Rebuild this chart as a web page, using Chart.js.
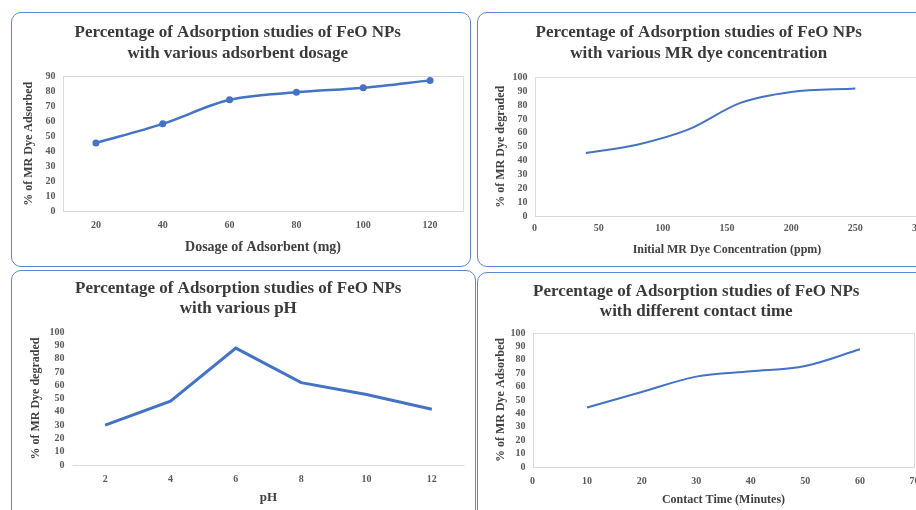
<!DOCTYPE html>
<html>
<head>
<meta charset="utf-8">
<script src="https://cdn.jsdelivr.net/npm/chart.js@4"></script>
<style>
    html, body { margin: 0; padding: 0; background: #fff; }
    body { width: 916px; height: 510px; overflow: hidden; position: relative; }
    .panel {
        position: absolute;
        border: 1.5px solid #5b87d3;
        border-radius: 10px;
        background: #fff;
        overflow: hidden;
    }
    .panel .inner { position: relative; width: 100%; height: 100%; }
</style>
</head>
<body>
<div class="panel" style="left:11px;top:12px;width:458px;height:253px"><div class="inner"><canvas id="dosageChart"></canvas></div></div>
<div class="panel" style="left:477px;top:12px;width:470px;height:253px"><div class="inner"><canvas id="concChart"></canvas></div></div>
<div class="panel" style="left:11px;top:270px;width:463px;height:250px"><div class="inner"><canvas id="phChart"></canvas></div></div>
<div class="panel" style="left:477px;top:272px;width:470px;height:250px"><div class="inner"><canvas id="timeChart"></canvas></div></div>
<script>
// values
const dosageLabels = ["20", "40", "60", "80", "100", "120"];
const dosageValues = [45.5, 58.3, 74.4, 79.4, 82.4, 87.4];

const concX = [40, 80, 120, 160, 200, 250];
const concValues = [45.5, 51.5, 62.5, 81.5, 89.5, 92];

const phLabels = ["2", "4", "6", "8", "10", "12"];
const phValues = [30, 48, 88, 62, 53, 42];

const timeX = [10, 20, 30, 40, 50, 60];
const timeValues = [44.5, 56, 67.5, 71.5, 75.5, 88];

const BLUE = "#4472c4";
const SERIF = "'Liberation Serif', 'Times New Roman', serif";

// light grey frame round the plot area (Excel style)
const plotBorder = {
    id: "plotBorder",
    beforeDatasetsDraw(chart, args, opts) {
        if (!opts.show) return;
        const a = chart.chartArea;
        const ctx = chart.ctx;
        ctx.save();
        ctx.strokeStyle = "#d9d9d9";
        ctx.lineWidth = 1;
        if (opts.bottomOnly) {
            ctx.beginPath();
            ctx.moveTo(a.left, Math.round(a.bottom) + 0.5);
            ctx.lineTo(a.right, Math.round(a.bottom) + 0.5);
            ctx.stroke();
        } else {
            ctx.strokeRect(Math.round(a.left) + 0.5, Math.round(a.top) + 0.5,
                Math.round(a.width) - 1, Math.round(a.height));
        }
        ctx.restore();
    },
};

function pairs(xs, ys) {
    return xs.map((x, i) => ({ x: x, y: ys[i] }));
}

function makeChart(id, s) {
    const xScale = {
        type: s.xType,
        offset: s.xType == "category",
        grid: { display: false, drawTicks: false },
        border: { display: false },
        ticks: {
            padding: s.xTickPad,
            color: "#595959",
            font: { family: SERIF, size: 10, weight: "bold" },
            maxRotation: 0,
            autoSkip: false,
        },
        title: {
            display: true,
            text: s.xTitle,
            color: "#404040",
            font: { family: SERIF, size: s.xTitleSize, weight: "bold" },
            padding: { top: 0, bottom: s.xTitlePad },
        },
        afterFit: (scale) => { scale.height = s.xHeight; },
    };
    if (s.xType == "linear") {
        xScale.min = 0;
        xScale.max = s.xMax;
        xScale.ticks.stepSize = s.xStep;
    }

    return new Chart(document.getElementById(id), {
        type: "line",
        data: {
            labels: s.labels,
            datasets: [
                {
                    data: s.data,
                    borderColor: BLUE,
                    backgroundColor: BLUE,
                    borderWidth: s.lineWidth,
                    pointRadius: s.pointRadius,
                    pointBorderWidth: 0,
                    cubicInterpolationMode: s.smooth ? "monotone" : "default",
                    tension: 0,
                },
            ],
        },
        plugins: [plotBorder],
        options: {
            responsive: true,
            maintainAspectRatio: false,
            animation: false,
            layout: { padding: { left: 0, top: 0, right: s.padRight, bottom: 0 } },
            plugins: {
                legend: { display: false },
                tooltip: { enabled: false },
                plotBorder: { show: true, bottomOnly: s.bottomOnly },
                title: {
                    display: true,
                    text: s.title,
                    color: "#3a3a3a",
                    font: { family: SERIF, size: 17, weight: "bold", lineHeight: s.titleLine },
                    padding: { top: s.titleTop, bottom: s.titleBottom },
                },
            },
            scales: {
                x: xScale,
                y: {
                    min: 0,
                    max: s.yMax,
                    grid: { display: false, drawTicks: false },
                    border: { display: false },
                    ticks: {
                        stepSize: 10,
                        autoSkip: false,
                        padding: s.yTickPad,
                        color: "#595959",
                        font: { family: SERIF, size: 10, weight: "bold" },
                    },
                    title: {
                        display: true,
                        text: s.yTitle,
                        color: "#404040",
                        font: { family: SERIF, size: 12, weight: "bold" },
                        padding: { top: s.yTitlePad, bottom: 0 },
                    },
                    afterFit: (scale) => { scale.width = s.yWidth; },
                },
            },
        },
    });
}

makeChart("dosageChart", {
    title: ["Percentage of Adsorption studies of FeO NPs", "with various adsorbent dosage"],
    labels: dosageLabels,
    data: dosageValues,
    xType: "category",
    xTitle: "Dosage of Adsorbent (mg)",
    xTitleSize: 14,
    yTitle: "% of MR Dye Adsorbed",
    yMax: 90,
    lineWidth: 2.5,
    pointRadius: 3.5,
    smooth: true,
    titleLine: 1.235, titleTop: 9, titleBottom: 12.5,
    padRight: 6.5, yWidth: 50.5, xHeight: 55,
    yTitlePad: 10, yTickPad: 7, xTickPad: 8, xTitlePad: 10,
});

makeChart("concChart", {
    title: ["Percentage of Adsorption studies of FeO NPs", "with various MR dye concentration"],
    data: pairs(concX, concValues),
    xType: "linear", xMax: 300, xStep: 50,
    xTitle: "Initial MR Dye Concentration (ppm)",
    xTitleSize: 12,
    yTitle: "% of MR Dye degraded",
    yMax: 100,
    lineWidth: 2,
    pointRadius: 0,
    smooth: true,
    titleLine: 1.235, titleTop: 9, titleBottom: 13.5,
    padRight: 28.5, yWidth: 56.5, xHeight: 50,
    yTitlePad: 16, yTickPad: 7, xTickPad: 6, xTitlePad: 9,
});

makeChart("phChart", {
    title: ["Percentage of Adsorption studies of FeO NPs", "with various pH"],
    labels: phLabels,
    data: phValues,
    xType: "category",
    xTitle: "pH",
    xTitleSize: 13,
    yTitle: "% of MR Dye degraded",
    yMax: 100,
    lineWidth: 3,
    pointRadius: 0,
    smooth: false,
    bottomOnly: true,
    titleLine: 1.18, titleTop: 8, titleBottom: 13,
    padRight: 10.5, yWidth: 60.5, xHeight: 56,
    yTitlePad: 17, yTickPad: 8, xTickPad: 8, xTitlePad: 16,
});

makeChart("timeChart", {
    title: ["Percentage of Adsorption studies of FeO NPs", "with different contact time"],
    data: pairs(timeX, timeValues),
    xType: "linear", xMax: 70, xStep: 10,
    xTitle: "Contact Time (Minutes)",
    xTitleSize: 12,
    yTitle: "% of MR Dye Adsorbed",
    yMax: 100,
    lineWidth: 2,
    pointRadius: 0,
    smooth: true,
    titleLine: 1.18, titleTop: 9, titleBottom: 11,
    padRight: 33.5, yWidth: 54.5, xHeight: 56,
    yTitlePad: 16, yTickPad: 7, xTickPad: 8, xTitlePad: 16,
});
</script>
</body>
</html>
